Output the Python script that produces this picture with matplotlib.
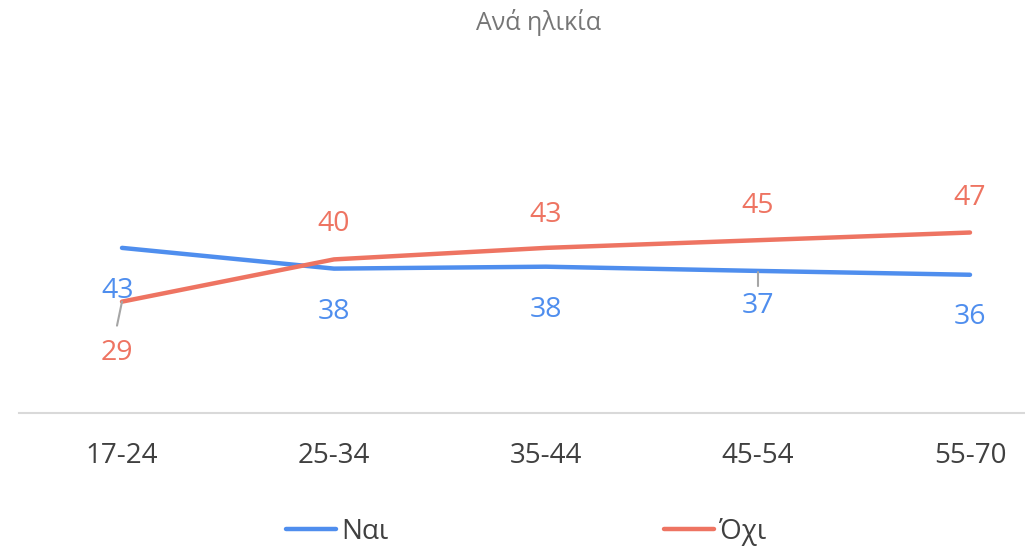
import matplotlib
matplotlib.use("Agg")
import matplotlib.pyplot as plt

plt.rcParams['font.family'] = ['Open Sans', 'DejaVu Sans']

# data
categories = ['17-24', '25-34', '35-44', '45-54', '55-70']
nai = [43, 37.6, 38.1, 37, 36]
oxi = [29, 40, 43, 45, 47]
series_names = ['Ναι', 'Όχι']
title = 'Ανά ηλικία'

blue = '#4F8EEE'
orange = '#EE7462'

W, H = 1025, 551
fig = plt.figure(figsize=(W / 100, H / 100), dpi=100)
# axes placed in pixel terms: bottom at y=413, x from 19 to 1025
ax = fig.add_axes([19 / W, (H - 413) / H, (W - 19) / W, 345 / H])
ax.set_ylim(0, 345 / 3.84)
ax.set_xlim(-103 / 212, 4 + 55 / 212)

x = list(range(len(categories)))
l1, = ax.plot(x, nai, color=blue, lw=3.2, solid_capstyle='round')
l2, = ax.plot(x, oxi, color=orange, lw=3.2, solid_capstyle='round')

# data labels (offsets in pixels)
nai_off = [(-4, -43), (0, -43), (0, -43), (0, -35), (0, -42)]
oxi_off = [(-5, -51), (0, 35), (0, 33), (0, 34), (0, 35)]
for i in x:
    ax.annotate(f'{nai[i]:.0f}', (i, nai[i]), xytext=nai_off[i],
                textcoords='offset pixels', ha='center', va='center',
                color=blue, fontsize=20.5)
    ax.annotate(f'{oxi[i]:.0f}', (i, oxi[i]), xytext=oxi_off[i],
                textcoords='offset pixels', ha='center', va='center',
                color=orange, fontsize=20.5)

# leader lines
ax.annotate('', (0, oxi[0]), xytext=(-5, -24), textcoords='offset pixels',
            arrowprops=dict(arrowstyle='-', color='#A6A6A6', lw=1.5, shrinkA=0, shrinkB=0))
ax.annotate('', (3, nai[3] - 0.3), xytext=(0, -14), textcoords='offset pixels',
            arrowprops=dict(arrowstyle='-', color='#A6A6A6', lw=1.5, shrinkA=0, shrinkB=0))

ax.set_xticks(x)
ax.set_xticklabels(categories, fontsize=20, color='#404040')
ax.tick_params(axis='x', length=0, pad=21)
ax.set_yticks([])
for s in ['top', 'right', 'left']:
    ax.spines[s].set_visible(False)
ax.spines['bottom'].set_color('#D9D9D9')
ax.spines['bottom'].set_linewidth(1.5)

fig.text(539 / W, 1 - 23 / H, title, ha='center', va='center',
         fontsize=18, color='#767676')

fig.legend([l1, l2], series_names, loc='center', bbox_to_anchor=(526 / W, 1 - 532 / H),
           ncol=2, frameon=False, fontsize=20, handlelength=1.8,
           handletextpad=0.2, columnspacing=9.9, labelcolor='#404040')

fig.savefig('out.png', dpi=100)
